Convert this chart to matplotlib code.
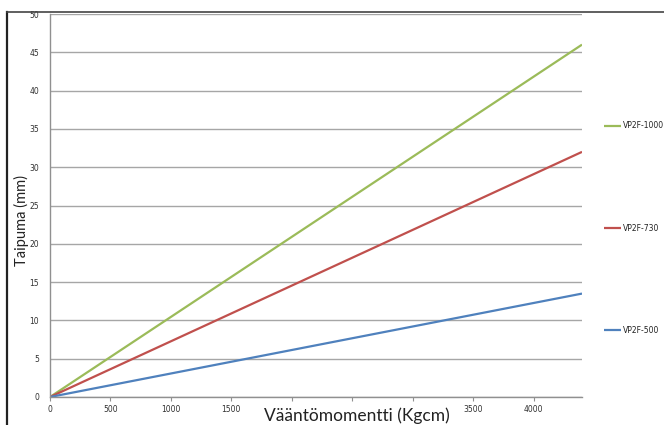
import matplotlib.pyplot as plt
from matplotlib.lines import Line2D

# Taipuma vs. vääntömomentti, kolme mallia
torque = [0, 4400]
series_names = ['VP2F-1000', 'VP2F-730', 'VP2F-500']
deflection = {
    'VP2F-1000': [0, 46.0],
    'VP2F-730': [0, 32.0],
    'VP2F-500': [0, 13.5],
}
colors = {'VP2F-1000': '#9BBB59', 'VP2F-730': '#C0504D', 'VP2F-500': '#4F81BD'}

x_ticks = [0, 500, 1000, 1500, 2000, 2500, 3000, 3500, 4000]
x_tick_labels = ['0', '500', '1000', '1500', '', '', '', '3500', '4000']
y_ticks = list(range(0, 51, 5))

fig = plt.figure(figsize=(6.64, 4.25), dpi=100)
ax = fig.add_axes([50 / 664, 1 - 397 / 425, 532 / 664, 383 / 425])

for name in series_names:
    ax.plot(torque, deflection[name], color=colors[name], lw=1.6, label=name,
            solid_capstyle='butt')

ax.set_xlim(0, 4400)
ax.set_ylim(0, 50)
ax.set_xticks(x_ticks)
ax.set_xticklabels(x_tick_labels)
ax.set_yticks(y_ticks)
ax.tick_params(axis='both', labelsize=5.5, colors='#303030', pad=3)
ax.tick_params(axis='y', length=0, pad=8)
ax.tick_params(axis='x', length=3, width=0.8, color='#909090')
ax.yaxis.grid(True, color='#A6A6A6', lw=1.0)
ax.set_axisbelow(True)
for side in ['top', 'right']:
    ax.spines[side].set_visible(False)
for side in ['left', 'bottom']:
    ax.spines[side].set_color('#909090')
    ax.spines[side].set_linewidth(1.0)

ax.set_xlabel('Vääntömomentti (Kgcm)', fontsize=12.5, family='Lato', color='#222222',
              va='center')
ax.xaxis.set_label_coords((357 - 50) / 532, (397 - 416) / 383)
ax.set_ylabel('Taipuma (mm)', fontsize=10.5, family='Lato', color='#222222', va='center')
ax.yaxis.set_label_coords((21 - 50) / 532, (397 - 220) / 383)

handles, labels = ax.get_legend_handles_labels()
fig.legend(handles, labels, loc='center left', bbox_to_anchor=(600 / 664, 1 - 228 / 425),
           frameon=False, fontsize=5.5, labelspacing=12.2, handlelength=2.3,
           handletextpad=0.2, borderpad=0, labelcolor='#222222')

# rajaviivat vasemmalla ja ylhäällä
fig.add_artist(Line2D([7 / 664, 7 / 664], [0, 1 - 12 / 425], color='#222222', lw=1.6))
fig.add_artist(Line2D([7 / 664, 1], [1 - 12 / 425, 1 - 12 / 425], color='#444444', lw=1.2))

fig.savefig('out.png', dpi=100)
plt.close(fig)
